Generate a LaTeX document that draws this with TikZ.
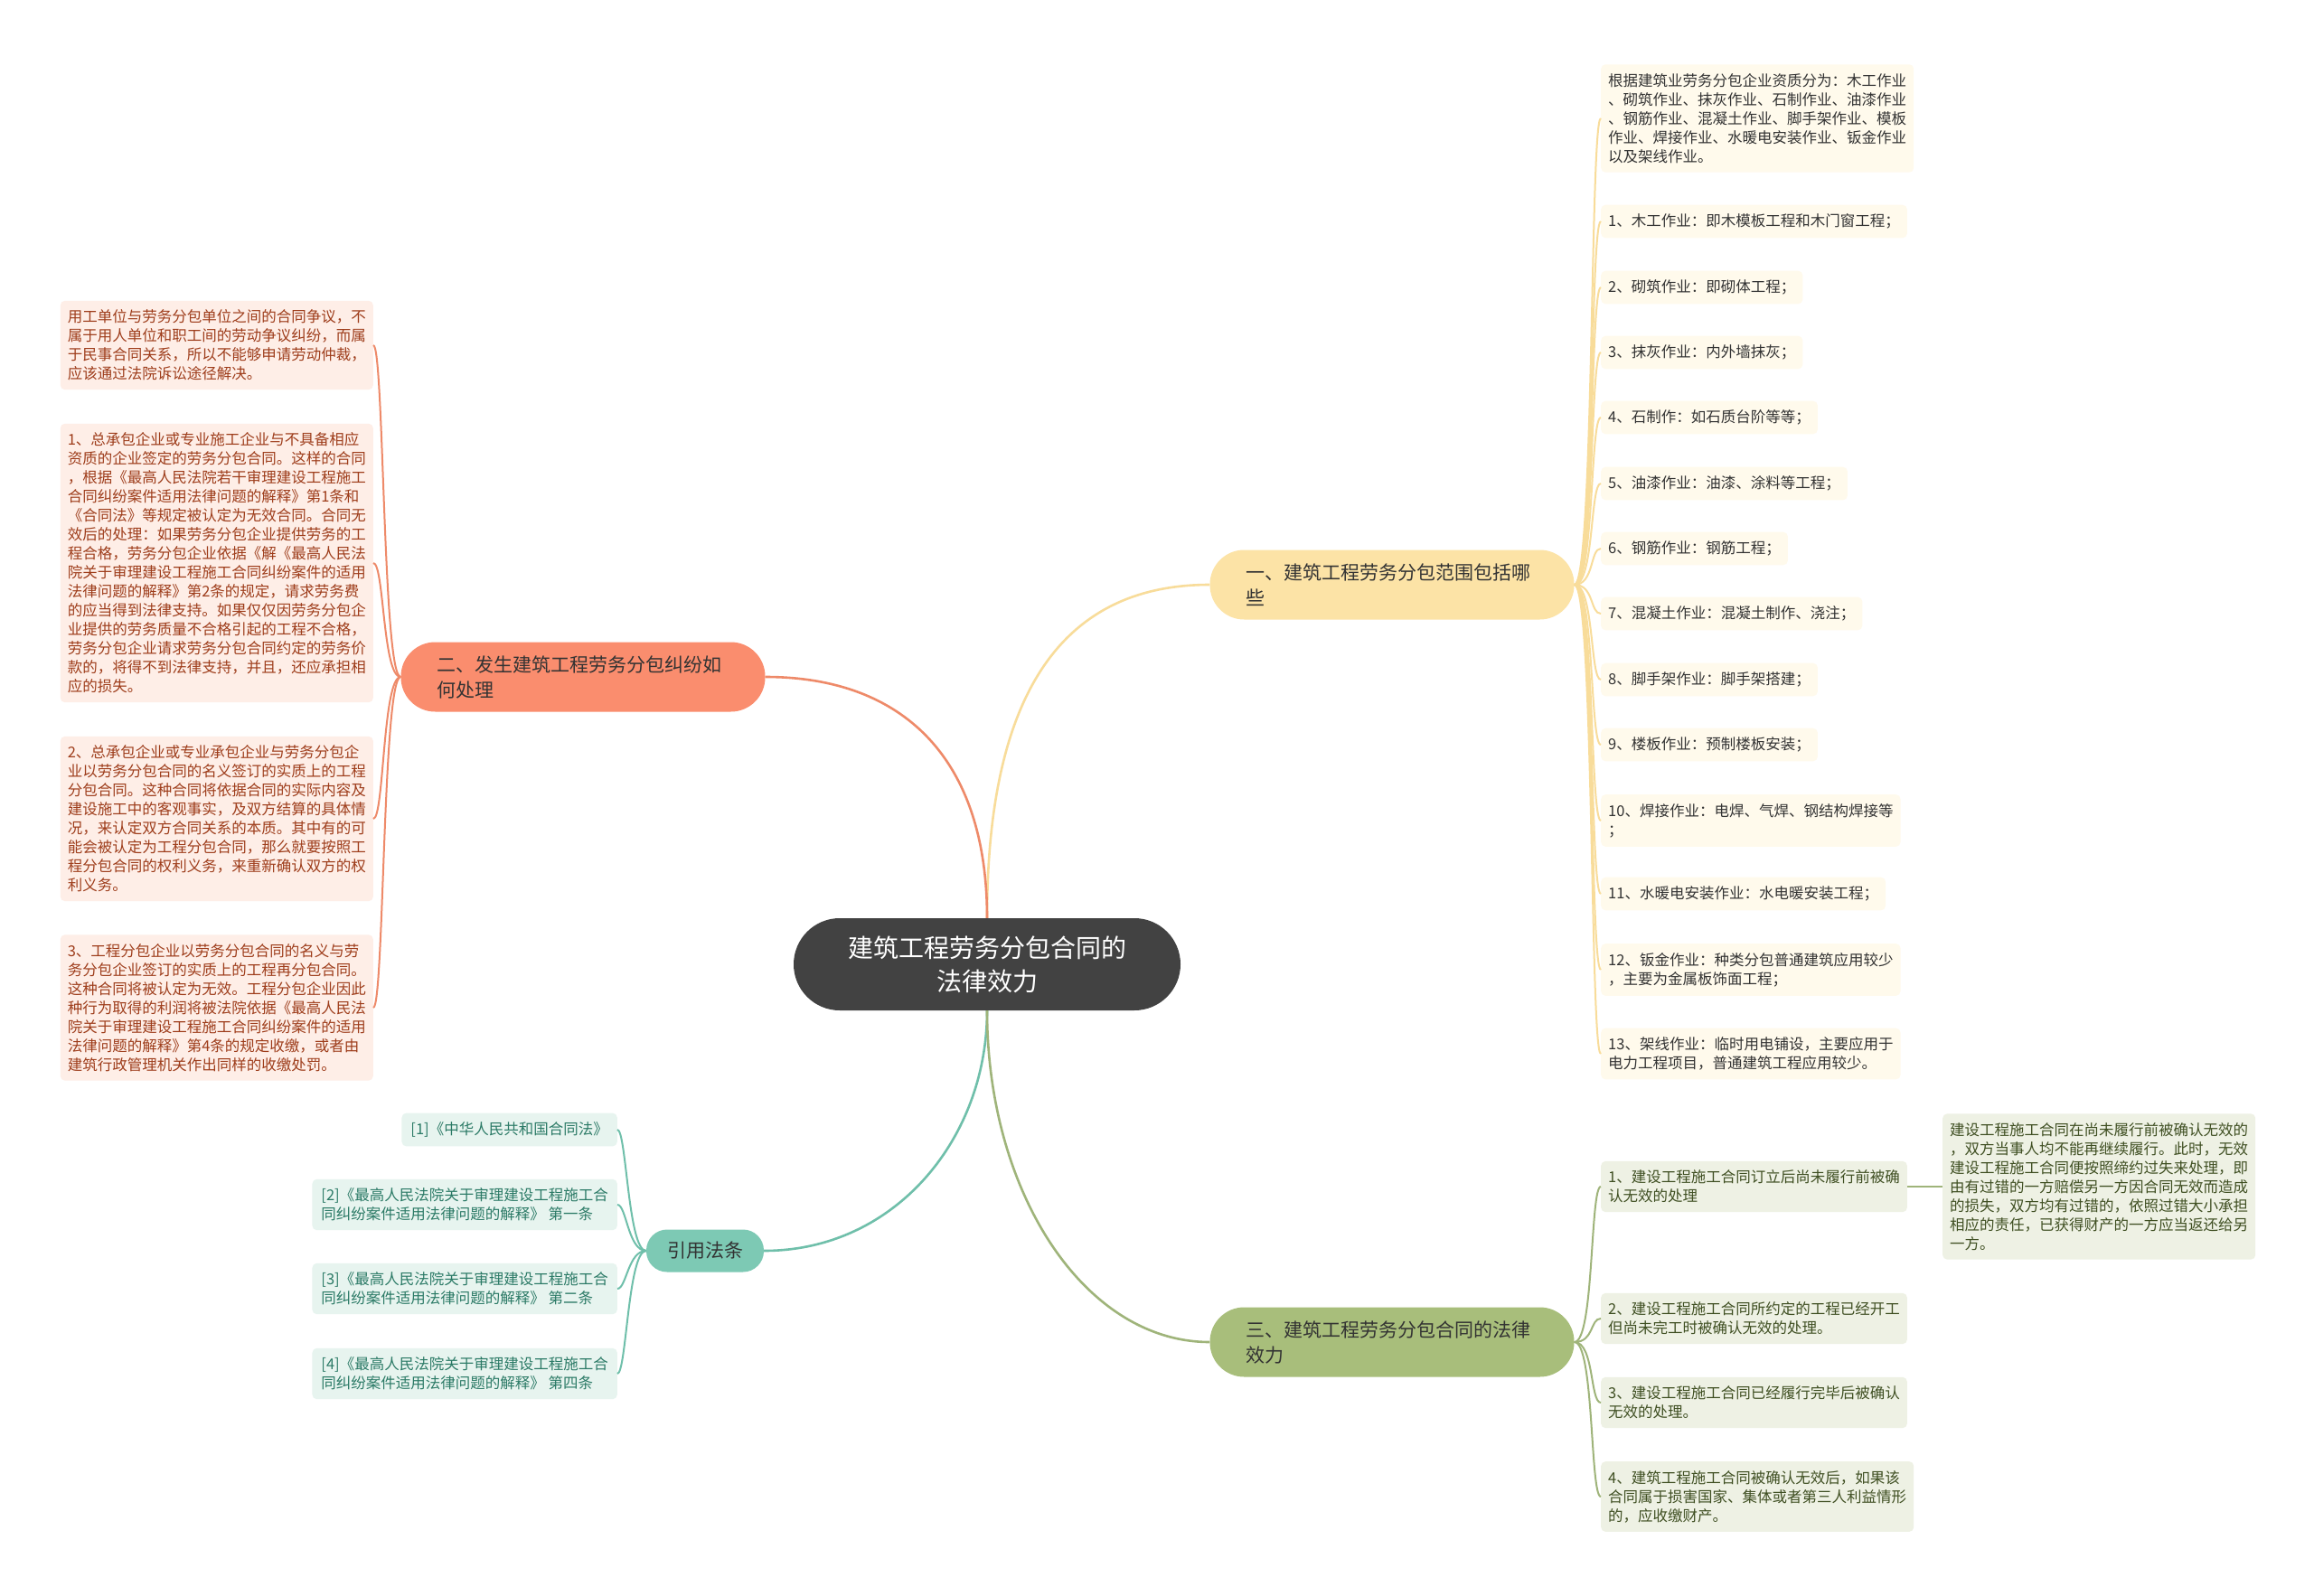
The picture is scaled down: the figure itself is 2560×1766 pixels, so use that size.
\documentclass[tikz,border=0pt]{standalone}
\usepackage{fontspec}
\setmainfont{Noto Sans CJK SC}
\usepackage{tikz}
\usetikzlibrary{positioning}
\usepackage{xcolor}
\definecolor{rootgray}{HTML}{424242}
\definecolor{byellow}{HTML}{FCE3A6}
\definecolor{bsalmon}{HTML}{FA8D6E}
\definecolor{bteal}{HTML}{7DC9B4}
\definecolor{bolive}{HTML}{A8BE7B}
\definecolor{lyellow}{HTML}{FFFAEC}
\definecolor{lsalmon}{HTML}{FEEEE7}
\definecolor{lteal}{HTML}{E7F4EF}
\definecolor{lolive}{HTML}{EEF1E4}
\definecolor{kyellow}{HTML}{F8DC9A}
\definecolor{ksalmon}{HTML}{EE8A69}
\definecolor{kteal}{HTML}{6FBFAA}
\definecolor{kolive}{HTML}{9FB47A}
\definecolor{tsalmon}{HTML}{9E3D1B}
\definecolor{tteal}{HTML}{2B7A66}
\definecolor{tolive}{HTML}{3F4F22}

\begin{document}
\begin{tikzpicture}[x=1pt, y=-1pt,
   root/.style={fill=rootgray, text=white, rounded corners=51pt, minimum height=102pt, minimum width=428pt,
                align=center, font=\fontsize{28}{37}\selectfont},
   br/.style={rounded corners=38pt, minimum height=77pt, inner xsep=40pt, text width=323pt, align=left,
              text=black!80, font=\fontsize{21}{28}\selectfont},
   lf/.style={rounded corners=5pt, inner xsep=8pt, inner ysep=10pt, align=left, font=\fontsize{16.5}{21}\selectfont},
   ly/.style={lf, fill=lyellow, text=black!80, anchor=west},
   ls/.style={lf, fill=lsalmon, text=tsalmon, anchor=east},
   lt/.style={lf, fill=lteal, text=tteal, anchor=east, inner xsep=10pt},
   lo/.style={lf, fill=lolive, text=tolive, anchor=west},
   main/.style={line width=2.6pt},
   sub/.style={line width=2pt}]
  \fill[white] (0,0) rectangle (2560,1766);
  \useasboundingbox (0,0) rectangle (2560,1766);

  % centre and branches
  \node[root] (c) at (1092,1067) {建筑工程劳务分包合同的\\法律效力};
  \node[br, fill=byellow] (b1) at (1540,647) {一、建筑工程劳务分包范围包括哪\\些};
  \node[br, fill=bsalmon] (b2) at (645,749) {二、发生建筑工程劳务分包纠纷如\\何处理};
  \node[fill=bteal, text=black!80, rounded corners=23pt, minimum height=47pt, inner xsep=23pt,
        font=\fontsize{21}{28}\selectfont] (b3) at (780,1384) {引用法条};
  \node[br, fill=bolive] (b4) at (1540,1485) {三、建筑工程劳务分包合同的法律\\效力};

  % branch one
  \node[ly] (r0) at (1771,131) {根据建筑业劳务分包企业资质分为：木工作业\\、砌筑作业、抹灰作业、石制作业、油漆作业\\、钢筋作业、混凝土作业、脚手架作业、模板\\作业、焊接作业、水暖电安装作业、钣金作业\\以及架线作业。};
  \node[ly] (r1) at (1771,245) {1、木工作业：即木模板工程和木门窗工程；};
  \node[ly] (r2) at (1771,318) {2、砌筑作业：即砌体工程；};
  \node[ly] (r3) at (1771,390) {3、抹灰作业：内外墙抹灰；};
  \node[ly] (r4) at (1771,462) {4、石制作：如石质台阶等等；};
  \node[ly] (r5) at (1771,535) {5、油漆作业：油漆、涂料等工程；};
  \node[ly] (r6) at (1771,607) {6、钢筋作业：钢筋工程；};
  \node[ly] (r7) at (1771,679) {7、混凝土作业：混凝土制作、浇注；};
  \node[ly] (r8) at (1771,752) {8、脚手架作业：脚手架搭建；};
  \node[ly] (r9) at (1771,824) {9、楼板作业：预制楼板安装；};
  \node[ly] (r10) at (1771,908) {10、焊接作业：电焊、气焊、钢结构焊接等\\；};
  \node[ly] (r11) at (1771,989) {11、水暖电安装作业：水电暖安装工程；};
  \node[ly] (r12) at (1771,1073) {12、钣金作业：种类分包普通建筑应用较少\\，主要为金属板饰面工程；};
  \node[ly] (r13) at (1771,1166) {13、架线作业：临时用电铺设，主要应用于\\电力工程项目，普通建筑工程应用较少。};

  % branch two
  \node[ls] (l0) at (413,382) {用工单位与劳务分包单位之间的合同争议，不\\属于用人单位和职工间的劳动争议纠纷，而属\\于民事合同关系，所以不能够申请劳动仲裁，\\应该通过法院诉讼途径解决。};
  \node[ls] (l1) at (413,623) {1、总承包企业或专业施工企业与不具备相应\\资质的企业签定的劳务分包合同。这样的合同\\，根据《最高人民法院若干审理建设工程施工\\合同纠纷案件适用法律问题的解释》第1条和\\《合同法》等规定被认定为无效合同。合同无\\效后的处理：如果劳务分包企业提供劳务的工\\程合格，劳务分包企业依据《解《最高人民法\\院关于审理建设工程施工合同纠纷案件的适用\\法律问题的解释》第2条的规定，请求劳务费\\的应当得到法律支持。如果仅仅因劳务分包企\\业提供的劳务质量不合格引起的工程不合格，\\劳务分包企业请求劳务分包合同约定的劳务价\\款的，将得不到法律支持，并且，还应承担相\\应的损失。};
  \node[ls] (l2) at (413,906) {2、总承包企业或专业承包企业与劳务分包企\\业以劳务分包合同的名义签订的实质上的工程\\分包合同。这种合同将依据合同的实际内容及\\建设施工中的客观事实，及双方结算的具体情\\况，来认定双方合同关系的本质。其中有的可\\能会被认定为工程分包合同，那么就要按照工\\程分包合同的权利义务，来重新确认双方的权\\利义务。};
  \node[ls] (l3) at (413,1115) {3、工程分包企业以劳务分包合同的名义与劳\\务分包企业签订的实质上的工程再分包合同。\\这种合同将被认定为无效。工程分包企业因此\\种行为取得的利润将被法院依据《最高人民法\\院关于审理建设工程施工合同纠纷案件的适用\\法律问题的解释》第4条的规定收缴，或者由\\建筑行政管理机关作出同样的收缴处罚。};

  % cited laws
  \node[lt] (q1) at (683,1250) {[1]《中华人民共和国合同法》};
  \node[lt] (q2) at (683,1333) {[2]《最高人民法院关于审理建设工程施工合\\同纠纷案件适用法律问题的解释》 第一条};
  \node[lt] (q3) at (683,1426) {[3]《最高人民法院关于审理建设工程施工合\\同纠纷案件适用法律问题的解释》 第二条};
  \node[lt] (q4) at (683,1520) {[4]《最高人民法院关于审理建设工程施工合\\同纠纷案件适用法律问题的解释》 第四条};

  % branch three
  \node[lo] (s1) at (1771,1313) {1、建设工程施工合同订立后尚未履行前被确\\认无效的处理};
  \node[lo] (s1x) at (2149,1313) {建设工程施工合同在尚未履行前被确认无效的\\，双方当事人均不能再继续履行。此时，无效\\建设工程施工合同便按照缔约过失来处理，即\\由有过错的一方赔偿另一方因合同无效而造成\\的损失，双方均有过错的，依照过错大小承担\\相应的责任，已获得财产的一方应当返还给另\\一方。};
  \node[lo] (s2) at (1771,1459) {2、建设工程施工合同所约定的工程已经开工\\但尚未完工时被确认无效的处理。};
  \node[lo] (s3) at (1771,1552) {3、建设工程施工合同已经履行完毕后被确认\\无效的处理。};
  \node[lo] (s4) at (1771,1656) {4、建筑工程施工合同被确认无效后，如果该\\合同属于损害国家、集体或者第三人利益情形\\的，应收缴财产。};

  % connectors
  \draw[main, kyellow] (c.north) .. controls (1092,760) and (1180,647) .. (b1.west);
  \draw[main, ksalmon] (c.north) .. controls (1092,840) and (1000,749) .. (b2.east);
  \draw[main, kteal] (c.south) .. controls (1092,1260) and (990,1384) .. (b3.east);
  \draw[main, kolive] (c.south) .. controls (1092,1320) and (1200,1485) .. (b4.west);

  \draw[sub, kyellow] (b1.east) .. controls +(22,0) and +(-12,0) .. (r0.west);
  \draw[sub, kyellow] (b1.east) .. controls +(22,0) and +(-12,0) .. (r1.west);
  \draw[sub, kyellow] (b1.east) .. controls +(22,0) and +(-12,0) .. (r2.west);
  \draw[sub, kyellow] (b1.east) .. controls +(22,0) and +(-12,0) .. (r3.west);
  \draw[sub, kyellow] (b1.east) .. controls +(22,0) and +(-12,0) .. (r4.west);
  \draw[sub, kyellow] (b1.east) .. controls +(22,0) and +(-12,0) .. (r5.west);
  \draw[sub, kyellow] (b1.east) .. controls +(22,0) and +(-12,0) .. (r6.west);
  \draw[sub, kyellow] (b1.east) .. controls +(22,0) and +(-12,0) .. (r7.west);
  \draw[sub, kyellow] (b1.east) .. controls +(22,0) and +(-12,0) .. (r8.west);
  \draw[sub, kyellow] (b1.east) .. controls +(22,0) and +(-12,0) .. (r9.west);
  \draw[sub, kyellow] (b1.east) .. controls +(22,0) and +(-12,0) .. (r10.west);
  \draw[sub, kyellow] (b1.east) .. controls +(22,0) and +(-12,0) .. (r11.west);
  \draw[sub, kyellow] (b1.east) .. controls +(22,0) and +(-12,0) .. (r12.west);
  \draw[sub, kyellow] (b1.east) .. controls +(22,0) and +(-12,0) .. (r13.west);

  \draw[sub, ksalmon] (b2.west) .. controls +(-20,0) and +(12,0) .. (l0.east);
  \draw[sub, ksalmon] (b2.west) .. controls +(-20,0) and +(12,0) .. (l1.east);
  \draw[sub, ksalmon] (b2.west) .. controls +(-20,0) and +(12,0) .. (l2.east);
  \draw[sub, ksalmon] (b2.west) .. controls +(-20,0) and +(12,0) .. (l3.east);

  \draw[sub, kteal] (b3.west) .. controls +(-20,0) and +(10,0) .. (q1.east);
  \draw[sub, kteal] (b3.west) .. controls +(-20,0) and +(10,0) .. (q2.east);
  \draw[sub, kteal] (b3.west) .. controls +(-20,0) and +(10,0) .. (q3.east);
  \draw[sub, kteal] (b3.west) .. controls +(-20,0) and +(10,0) .. (q4.east);

  \draw[sub, kolive] (b4.east) .. controls +(22,0) and +(-12,0) .. (s1.west);
  \draw[sub, kolive] (b4.east) .. controls +(22,0) and +(-12,0) .. (s2.west);
  \draw[sub, kolive] (b4.east) .. controls +(22,0) and +(-12,0) .. (s3.west);
  \draw[sub, kolive] (b4.east) .. controls +(22,0) and +(-12,0) .. (s4.west);
  \draw[sub, kolive] (s1.east) -- (s1x.west);
\end{tikzpicture}
\end{document}
